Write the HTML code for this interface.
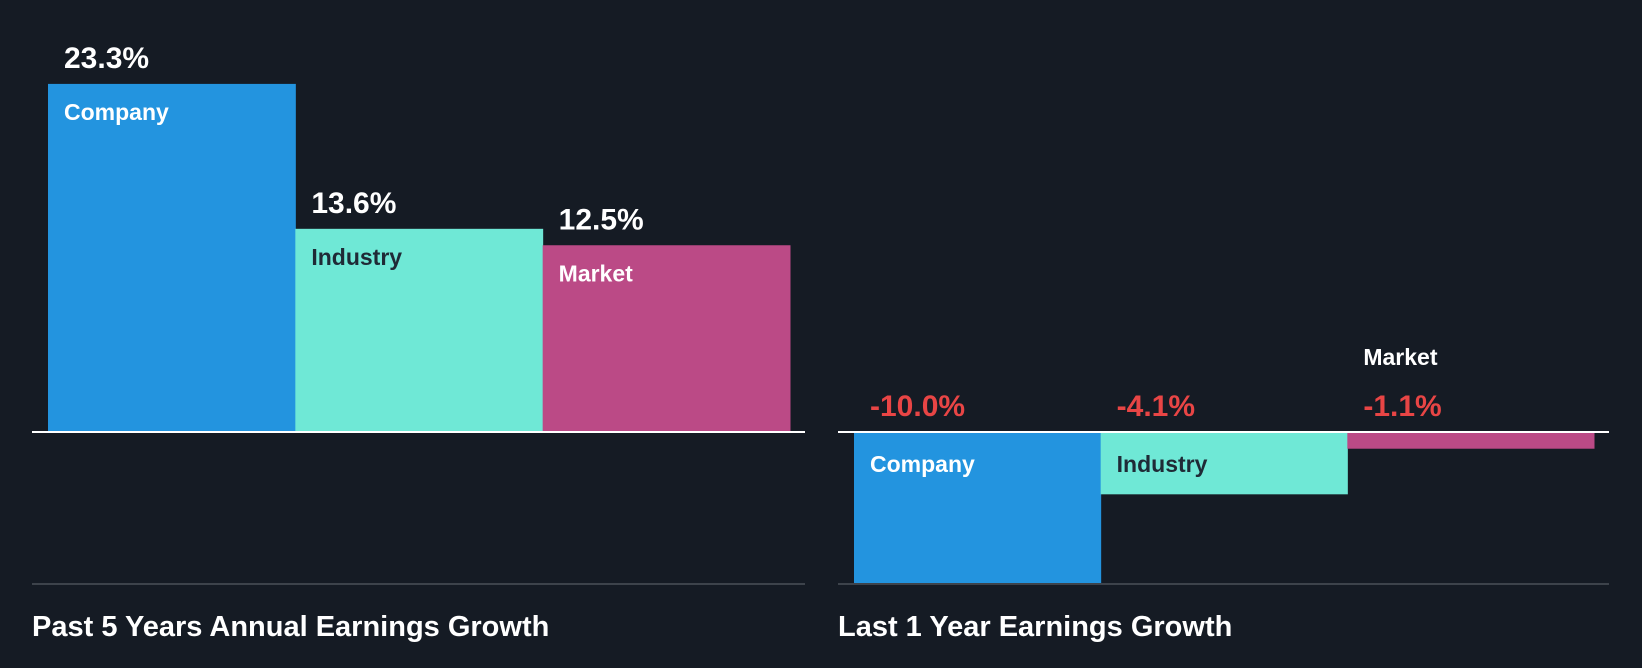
<!DOCTYPE html>
<html><head><meta charset="utf-8"><style>
html,body{margin:0;padding:0;background:#151b24;}
svg{display:block;font-family:"Liberation Sans",Arial,sans-serif;font-weight:bold;}
</style></head><body>
<svg id="c" width="1642" height="668" viewBox="0 0 1642 668">
<rect x="0" y="0" width="1642" height="668" fill="#151b24"/>
</svg>
<script>
const categories = ["Company","Industry","Market"];
const past5Values = [23.3, 13.6, 12.5];
const last1Values = [-10.0, -4.1, -1.1];
const colors = ["#2394df","#6fe8d6","#bb4a86"];
const labelColors = ["#ffffff","#1f2a36","#ffffff"];
const NS="http://www.w3.org/2000/svg";
const svg=document.getElementById('c');
function mk(tag,attrs,parent){const e=document.createElementNS(NS,tag);for(const k in attrs)e.setAttribute(k,attrs[k]);(parent||svg).appendChild(e);return e;}
function fmt(v){return v.toFixed(1)+"%";}
function panel(values,x0,x1,zeroY,pxPer,lineL,lineR,title,name){
  const g=mk('g',{});
  
  
  const bw=(x1-x0)/values.length;
  const yScale=v=>zeroY-v*pxPer;
  values.forEach((v,i)=>{
    const x=x0+i*bw, y=yScale(v);
    const top=Math.min(y,zeroY), h=Math.abs(y-zeroY);
    const r=mk('rect',{x:x,y:top,width:bw+0.5,height:h,fill:colors[i]},g);
    
    
    const vl=mk('text',{x:x+16,y:v>=0?y-16:zeroY-16,'font-size':30,fill:v>=0?'#ffffff':'#e84545'},g);
    vl.textContent=fmt(v);
    
    
    let ly;
    if(v>=0) ly=y+36;
    else if(h>48) ly=zeroY+40;
    else ly=zeroY-67;
    const cl=mk('text',{x:x+16,y:ly,'font-size':23,fill:(v<0&&h<=48)?'#ffffff':labelColors[i]},g);
    cl.textContent=categories[i];
    
    
  });
  const zl=mk('line',{x1:lineL,x2:lineR,y1:zeroY,y2:zeroY,stroke:'#ffffff','stroke-width':2},g);
  
  
  const bl=mk('line',{x1:lineL,x2:lineR,y1:584,y2:584,stroke:'#3d434b','stroke-width':2},g);
  
  
  const t=mk('text',{x:lineL,y:636,'font-size':29,fill:'#ffffff'},g);
  t.textContent=title;
  
  
}
panel(past5Values,48,790,432,14.94,32,805,"Past 5 Years Annual Earnings Growth","past-5-years-panel");
panel(last1Values,854,1594,432,15.2,838,1609,"Last 1 Year Earnings Growth","last-1-year-panel");
</script>
</body></html>
